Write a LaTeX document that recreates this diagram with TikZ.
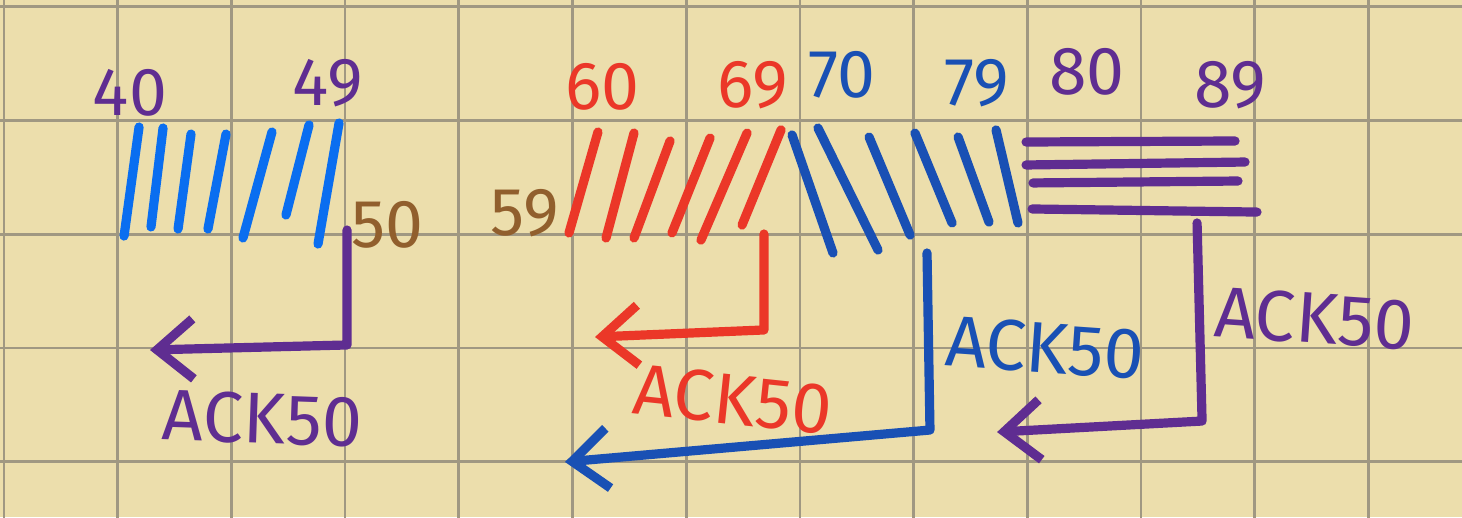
\documentclass[tikz,border=0pt]{standalone}
\usepackage{fontspec}
\setsansfont{Fira Sans}
\usetikzlibrary{positioning, arrows.meta, calc}

\definecolor{paper}{RGB}{236,222,172}
\definecolor{gridgray}{RGB}{160,152,130}
\definecolor{penblue}{RGB}{10,110,240}
\definecolor{penpurple}{RGB}{95,45,145}
\definecolor{penbrown}{RGB}{145,95,45}
\definecolor{penred}{RGB}{235,55,40}
\definecolor{pendeep}{RGB}{25,80,180}

\begin{document}
\begin{tikzpicture}[
		x=1cm, y=-1cm,
		% --- ESTILOS ---
		stroke/.style={
			line width=2.3pt, line cap=round
		},
		seqlabel/.style={
			font=\sffamily\fontsize{17}{17}\selectfont, inner sep=0pt
		},
		acklabel/.style={
			font=\sffamily\fontsize{18}{18}\selectfont, inner sep=0pt, anchor=west
		},
		ackline/.style={
			draw, line width=2.3pt, line cap=round, line join=round,
			-{Straight Barb[length=9pt,width=15pt]}
		}
		]
		
		% --- 0. Papel cuadriculado ---
		\useasboundingbox (0,0) rectangle (12.858,4.547);
		\clip (0,0) rectangle (12.858,4.547);
		\fill [paper] (0,0) rectangle (12.858,4.547);
		\draw [gridgray, line width=0.7pt, shift={(0.035,0.06)}] (-1,-1) grid (13,5);
		
		% --- 1. Segmentos 40-49 ---
		\foreach \xa/\ya/\xb/\yb in {1.223/1.117/1.091/2.076, 1.434/1.126/1.328/1.996,
			1.680/1.179/1.566/2.014, 1.988/1.179/1.829/2.014, 2.392/1.161/2.137/2.093,
			2.718/1.099/2.515/1.891, 2.982/1.082/2.797/2.146}
		\draw [stroke, penblue] (\xa,\ya) -- (\xb,\yb);
		
		\node [seqlabel, penpurple] (n40) at (1.143,0.818) {40};
		\node [seqlabel, penpurple] (n49) at (2.885,0.730) {49};
		\node [seqlabel, penbrown] (n50) at (3.404,1.979) {50};
		
		% ACK del primer bloque
		\coordinate (ack1top) at (3.052,2.023);
		\coordinate (ack1corner) at (3.052,3.034);
		\coordinate (ack1end) at (1.319,3.078);
		\draw [ackline, penpurple] (ack1top) -- (ack1corner) -- (ack1end);
		\node [acklabel, penpurple, rotate=-2] (ack1) at (1.425,3.650) {ACK50};
		
		% --- 2. Segmentos 60-69 ---
		\foreach \xa/\ya/\xb/\yb in {5.259/1.161/5.004/2.049, 5.576/1.170/5.330/2.093,
			5.893/1.240/5.576/2.093, 6.245/1.214/5.910/2.049, 6.570/1.170/6.165/2.111,
			6.869/1.143/6.526/1.979}
		\draw [stroke, penred] (\xa,\ya) -- (\xb,\yb);
		
		\node [seqlabel, penbrown] (n59) at (4.617,1.873) {59};
		\node [seqlabel, penred] (n60) at (5.295,0.765) {60};
		\node [seqlabel, penred] (n69) at (6.623,0.748) {69};
		
		\coordinate (ack2top) at (6.719,2.058);
		\coordinate (ack2corner) at (6.719,2.902);
		\coordinate (ack2end) at (5.233,2.964);
		\draw [ackline, penred] (ack2top) -- (ack2corner) -- (ack2end);
		\node [acklabel, penred, rotate=-6] (ack2) at (5.567,3.420) {ACK50};
		
		% --- 3. Segmentos 70-79 ---
		\foreach \xa/\ya/\xb/\yb in {6.966/1.187/7.326/2.225, 7.194/1.126/7.722/2.199,
			7.643/1.205/8.004/2.067, 8.047/1.170/8.373/1.961, 8.426/1.205/8.698/1.953,
			8.760/1.143/8.953/1.961}
		\draw [stroke, pendeep] (\xa,\ya) -- (\xb,\yb);
		
		\node [seqlabel, pendeep] (n70) at (7.405,0.660) {70};
		\node [seqlabel, pendeep] (n79) at (8.593,0.730) {79};
		
		\coordinate (ack3top) at (8.153,2.225);
		\coordinate (ack3corner) at (8.179,3.782);
		\coordinate (ack3end) at (4.969,4.063);
		\draw [ackline, pendeep] (ack3top) -- (ack3corner) -- (ack3end);
		\node [acklabel, pendeep, rotate=-4] (ack3) at (8.311,3.000) {ACK50};
		
		% --- 4. Segmentos 80-89 ---
		\foreach \xa/\ya/\xb/\yb in {9.024/1.249/10.862/1.240, 9.024/1.451/10.950/1.425,
			9.085/1.609/10.888/1.592, 9.077/1.838/11.055/1.865}
		\draw [stroke, penpurple] (\xa,\ya) -- (\xb,\yb);
		
		\node [seqlabel, penpurple] (n80) at (9.560,0.633) {80};
		\node [seqlabel, penpurple] (n89) at (10.818,0.748) {89};
		
		\coordinate (ack4top) at (10.528,1.961);
		\coordinate (ack4corner) at (10.572,3.703);
		\coordinate (ack4end) at (8.769,3.800);
		\draw [ackline, penpurple] (ack4top) -- (ack4corner) -- (ack4end);
		\node [acklabel, penpurple, rotate=-4] (ack4) at (10.680,2.740) {ACK50};
		
	\end{tikzpicture}
\end{document}
